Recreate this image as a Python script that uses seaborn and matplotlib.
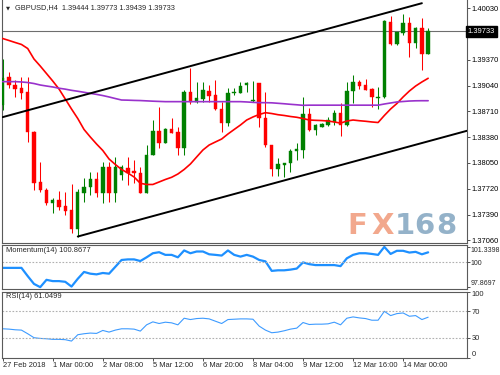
import numpy as np
import pandas as pd
import matplotlib
matplotlib.use("Agg")
import matplotlib.pyplot as plt
import seaborn as sns

# ---------------- data ----------------
opens = [1.38792, 1.39147, 1.39048, 1.39006, 1.38963, 1.38451, 1.37803, 1.37704, 1.37542, 1.37576,
         1.37499, 1.37448, 1.37201, 1.37670, 1.37747, 1.37841, 1.37670, 1.38003, 1.37670, 1.37896,
         1.37982, 1.37947, 1.37926, 1.37670, 1.38152, 1.38463, 1.38302, 1.38481, 1.38443, 1.38238,
         1.38963, 1.38835, 1.38865, 1.38975, 1.38920, 1.38737, 1.38558, 1.38942, 1.38950, 1.39044,
         1.38847, 1.39070, 1.38622, 1.38280, 1.37969, 1.38024, 1.38046, 1.38203, 1.38216, 1.38673,
         1.38472, 1.38515, 1.38536, 1.38579, 1.38694, 1.38536, 1.38975, 1.39091, 1.39048, 1.38993,
         1.38886, 1.38891, 1.39859, 1.39573, 1.39710, 1.39838, 1.39590, 1.39774, 1.39444]
highs = [1.39377, 1.39219, 1.39112, 1.39155, 1.39155, 1.38460, 1.38067, 1.37726, 1.37598, 1.37695,
         1.37683, 1.37781, 1.37713, 1.37854, 1.37939, 1.37939, 1.38067, 1.38067, 1.38131, 1.38024,
         1.38131, 1.38088, 1.38003, 1.38280, 1.38600, 1.38763, 1.38494, 1.38622, 1.38507, 1.38984,
         1.39270, 1.39083, 1.39091, 1.39048, 1.39112, 1.38835, 1.39006, 1.39006, 1.39091, 1.39091,
         1.39099, 1.39075, 1.38963, 1.38285, 1.38114, 1.38054, 1.38225, 1.38302, 1.38891, 1.38750,
         1.38549, 1.38566, 1.38643, 1.38728, 1.38814, 1.39091, 1.39176, 1.39112, 1.39121, 1.39006,
         1.39027, 1.39880, 1.39931, 1.39730, 1.39957, 1.39922, 1.39794, 1.39902, 1.39773]
lows = [1.38728, 1.39006, 1.38891, 1.38865, 1.38323, 1.37704, 1.37683, 1.37512, 1.37414, 1.37448,
        1.37384, 1.37150, 1.37107, 1.37555, 1.37640, 1.37619, 1.37542, 1.37555, 1.37555, 1.37832,
        1.37768, 1.37790, 1.37662, 1.37662, 1.38152, 1.38238, 1.38302, 1.38430, 1.38152, 1.38152,
        1.38805, 1.38814, 1.38835, 1.38835, 1.38728, 1.38451, 1.38523, 1.38920, 1.38942, 1.38963,
        1.38835, 1.38515, 1.38259, 1.37889, 1.37883, 1.37875, 1.37939, 1.38088, 1.38110, 1.38465,
        1.38408, 1.38507, 1.38523, 1.38536, 1.38395, 1.38523, 1.38814, 1.38993, 1.38978, 1.38771,
        1.38737, 1.38885, 1.39565, 1.39565, 1.39688, 1.39410, 1.39518, 1.39240, 1.39439]
closes = [1.39134, 1.39048, 1.38997, 1.38950, 1.38451, 1.37798, 1.37704, 1.37542, 1.37576, 1.37490,
          1.37439, 1.37201, 1.37683, 1.37747, 1.37841, 1.37670, 1.38003, 1.37670, 1.38003, 1.38003,
          1.37926, 1.37918, 1.37670, 1.38152, 1.38463, 1.38302, 1.38481, 1.38438, 1.38238, 1.38963,
          1.38835, 1.38878, 1.38984, 1.38907, 1.38737, 1.38558, 1.38950, 1.38963, 1.39035, 1.39070,
          1.38852, 1.38622, 1.38280, 1.37969, 1.38037, 1.38054, 1.38207, 1.38229, 1.38673, 1.38472,
          1.38536, 1.38549, 1.38600, 1.38694, 1.38536, 1.38975, 1.39091, 1.39035, 1.38984, 1.38891,
          1.38895, 1.39871, 1.39573, 1.39723, 1.39838, 1.39590, 1.39774, 1.39445, 1.39733]

ma_fast = [1.39643, 1.39618, 1.39592, 1.39567, 1.39515, 1.39381, 1.39291, 1.39195, 1.39099, 1.38997,
           1.38869, 1.38741, 1.38619, 1.38479, 1.38383, 1.38293, 1.38210, 1.38101, 1.38031, 1.37967,
           1.37922, 1.37871, 1.37790, 1.37775, 1.37775, 1.37807, 1.37839, 1.37867, 1.37909, 1.37967,
           1.38037, 1.38127, 1.38216, 1.38280, 1.38319, 1.38357, 1.38421, 1.38479, 1.38536, 1.38600,
           1.38639, 1.38671, 1.38694, 1.38683, 1.38668, 1.38658, 1.38645, 1.38635, 1.38619, 1.38600,
           1.38596, 1.38593, 1.38587, 1.38575, 1.38560, 1.38587, 1.38600, 1.38591, 1.38584, 1.38575,
           1.38568, 1.38658, 1.38741, 1.38811, 1.38895, 1.38971, 1.39035, 1.39087, 1.39134]
ma_slow = [1.39091, 1.39091, 1.39091, 1.39087, 1.39080, 1.39067, 1.39048, 1.39035, 1.39023, 1.39007,
           1.38995, 1.38980, 1.38968, 1.38955, 1.38941, 1.38928, 1.38913, 1.38895, 1.38875, 1.38856,
           1.38854, 1.38851, 1.38849, 1.38845, 1.38841, 1.38838, 1.38835, 1.38835, 1.38835, 1.38835,
           1.38835, 1.38835, 1.38835, 1.38835, 1.38835, 1.38835, 1.38835, 1.38835, 1.38835, 1.38831,
           1.38826, 1.38822, 1.38822, 1.38820, 1.38814, 1.38808, 1.38801, 1.38795, 1.38788, 1.38790,
           1.38790, 1.38790, 1.38790, 1.38790, 1.38790, 1.38790, 1.38790, 1.38790, 1.38790, 1.38790,
           1.38790, 1.38805, 1.38818, 1.38831, 1.38837, 1.38843, 1.38846, 1.38847, 1.38847]

momentum = [99.53, 99.53, 99.53, 99.53, 98.82, 98.15, 97.8697, 98.50, 98.39, 98.39,
            98.33, 97.92, 98.59, 99.18, 99.03, 98.97, 99.09, 99.03, 99.62, 100.21,
            100.26, 100.26, 100.12, 100.44, 100.79, 100.88, 100.65, 100.65, 100.44, 101.03,
            100.79, 100.94, 100.94, 100.70, 100.65, 100.59, 101.03, 100.65, 100.50, 100.65,
            100.50, 100.21, 100.09, 99.27, 99.32, 99.32, 99.38, 99.47, 100.00, 99.85,
            99.77, 99.77, 99.77, 99.77, 99.68, 100.35, 100.65, 100.79, 100.79, 100.73,
            100.65, 101.3398, 100.73, 101.00, 101.00, 100.85, 100.91, 100.70, 100.8677]
rsi = [43.5, 43.0, 42.0, 41.5, 36.0, 30.0, 28.9, 28.4, 27.5, 27.5,
       27.0, 24.9, 34.5, 36.0, 37.0, 36.5, 41.0, 38.5, 41.5, 43.5,
       43.5, 43.0, 40.0, 49.5, 54.0, 51.5, 53.5, 52.5, 49.5, 59.5,
       57.5, 59.0, 59.5, 58.5, 55.0, 51.5, 57.5, 58.0, 58.5, 58.5,
       58.0, 47.5, 41.5, 37.5, 38.5, 40.5, 43.0, 44.5, 53.0, 50.0,
       50.5, 50.5, 51.0, 53.5, 49.5, 59.5, 61.5, 60.0, 59.0, 56.5,
       56.5, 70.0, 63.5, 66.5, 67.5, 62.5, 63.5, 57.5, 61.0499]

upper_channel_x = [0, 67]
upper_channel_y = [1.38637, 1.40095]
lower_channel_x = [12, 74.2]
lower_channel_y = [1.37109, 1.38462]

price_ticks = [1.40030, 1.39370, 1.39040, 1.38710, 1.38380, 1.38050, 1.37720, 1.37390, 1.37060]
price_tick_labels = ["1.40030", "1.39370", "1.39040", "1.38710", "1.38380",
                     "1.38050", "1.37720", "1.37390", "1.37060"]
mom_ticks = [101.3398, 100, 97.8697]
mom_tick_labels = ["101.3398", "100", "97.8697"]
rsi_ticks = [100, 70, 30, 0]
rsi_tick_labels = ["100", "70", "30", "0"]
date_ticks = [0, 8, 16, 24, 32, 40, 48, 56, 64]
date_labels = ["27 Feb 2018", "1 Mar 00:00", "2 Mar 08:00", "5 Mar 12:00", "6 Mar 20:00",
               "8 Mar 04:00", "9 Mar 12:00", "12 Mar 16:00", "14 Mar 00:00"]
title_text = "GBPUSD,H4  1.39444 1.39773 1.39439 1.39733"
bid_price = 1.39733
mom_label = "Momentum(14) 100.8677"
rsi_label = "RSI(14) 61.0499"

# ---------------- style ----------------
sns.set_style("white")
plt.rcParams['font.family'] = ['Liberation Sans', 'DejaVu Sans']
plt.rcParams['axes.linewidth'] = 0.8

df = pd.DataFrame({"bar": np.arange(len(opens)), "open": opens, "high": highs,
                   "low": lows, "close": closes, "ma_fast": ma_fast, "ma_slow": ma_slow,
                   "momentum": momentum, "rsi": rsi})

W, H = 500, 375
fig = plt.figure(figsize=(5, 3.75), dpi=100)
x0, x1 = 2, 466.5
def axes_rect(ytop, ybot):
    return [x0 / W, 1 - ybot / H, (x1 - x0) / W, (ybot - ytop) / H]

ax = fig.add_axes(axes_rect(0, 243))
axm = fig.add_axes(axes_rect(245, 289))
axr = fig.add_axes(axes_rect(291.5, 357.5))

XL = (-0.11, 74.13)
frame_col = '#5a5a5a'
fs = 5.4

# ---------------- main price panel ----------------
up_col = '#008000'
dn_col = '#ff0000'
colors = [up_col if c >= o else dn_col for o, c in zip(df.open, df.close)]
ax.vlines(df.bar, df.low, df.high, colors=colors, linewidth=0.75, zorder=3)
body_bottom = np.minimum(df.open, df.close)
body_h = np.maximum(np.abs(df.close - df.open), 0.00003)
ax.bar(df.bar, body_h, bottom=body_bottom, width=0.55, color=colors,
       edgecolor=colors, linewidth=0.3, zorder=4)

sns.lineplot(data=df, x="bar", y="ma_fast", ax=ax, color='#ff0000', linewidth=1.2, zorder=5)
sns.lineplot(data=df, x="bar", y="ma_slow", ax=ax, color='#9932cc', linewidth=1.2, zorder=5)
ax.plot(upper_channel_x, upper_channel_y, color='black', linewidth=1.4, zorder=6)
ax.plot(lower_channel_x, lower_channel_y, color='black', linewidth=1.4, zorder=6)
ax.axhline(bid_price, color='#6e6e6e', linewidth=0.8, zorder=2)

ax.set_xlim(*XL)
ax.set_ylim(1.37026, 1.40136)
ax.yaxis.tick_right()
ax.set_yticks(price_ticks)
ax.set_yticklabels(price_tick_labels)
ax.set_xticks([])
ax.set_xlabel("")
ax.set_ylabel("")
ax.tick_params(axis='y', right=True, length=2, width=0.6, pad=1.5, labelsize=fs,
               color='#333333', labelcolor='black')

# bid box
fig.text(467.5 / W, 1 - 31.5 / H, "1.39733", color='white', fontsize=fs, va='center',
         ha='left', bbox=dict(boxstyle='square,pad=0.25', fc='black', ec='black'))

# title
fig.text(6 / W, 1 - 8 / H, "\u25BC", fontsize=3.8, va='center', ha='left',
         family=['DejaVu Sans'])
fig.text(15 / W, 1 - 8 / H, title_text, fontsize=5.3, va='center', ha='left')

# watermark
wm = [("F", 357.0, '#f2a487'), ("X", 382.5, '#f2a487'), ("1", 404.5, '#8eaec6'),
      ("6", 424.5, '#8eaec6'), ("8", 446.5, '#8eaec6')]
for ch, xc, col in wm:
    fig.text(xc / W, 1 - 225.5 / H, ch, fontsize=21, fontweight='bold', color=col,
             ha='center', va='center', family=['DejaVu Sans'], alpha=0.95, zorder=1)

# ---------------- momentum panel ----------------
sns.lineplot(data=df, x="bar", y="momentum", ax=axm, color='#1e90ff', linewidth=1.6)
axm.axhline(100, color='#b0b0b0', linewidth=0.8, linestyle=(0, (1.5, 1.5)))
axm.set_xlim(*XL)
axm.set_ylim(97.71, 101.50)
axm.yaxis.tick_right()
axm.set_yticks(mom_ticks)
axm.set_yticklabels(mom_tick_labels)
axm.set_xticks([])
axm.set_xlabel("")
axm.set_ylabel("")
axm.tick_params(axis='y', right=True, length=2, width=0.6, pad=1.0, labelsize=5.0,
                color='#333333')
tl = axm.get_yticklabels()
tl[0].set_va('top')
tl[-1].set_va('bottom')
fig.text(6 / W, 1 - 250 / H, mom_label, fontsize=fs, va='center', ha='left')

# ---------------- RSI panel ----------------
sns.lineplot(data=df, x="bar", y="rsi", ax=axr, color='#3d9bff', linewidth=0.8)
for lv in (70, 30):
    axr.axhline(lv, color='#b0b0b0', linewidth=0.8, linestyle=(0, (1.5, 1.5)))
axr.set_xlim(*XL)
axr.set_ylim(0, 100)
axr.yaxis.tick_right()
axr.set_yticks(rsi_ticks)
axr.set_yticklabels(rsi_tick_labels)
axr.set_xticks(date_ticks)
axr.set_xticklabels(date_labels, ha='left')
axr.set_xlabel("")
axr.set_ylabel("")
axr.tick_params(axis='y', right=True, length=2, width=0.6, pad=1.5, labelsize=fs,
                color='#333333')
axr.tick_params(axis='x', bottom=True, length=2, width=0.6, pad=1.5, labelsize=fs,
                color='#333333')
tr = axr.get_yticklabels()
tr[0].set_va('top')
tr[-1].set_va('bottom')
fig.text(6 / W, 1 - 297 / H, rsi_label, fontsize=fs, va='center', ha='left')

for a in (ax, axm, axr):
    for s in a.spines.values():
        s.set_color(frame_col)
        s.set_linewidth(0.8)
ax.spines['top'].set_visible(False)

fig.savefig("out.png", dpi=100)
